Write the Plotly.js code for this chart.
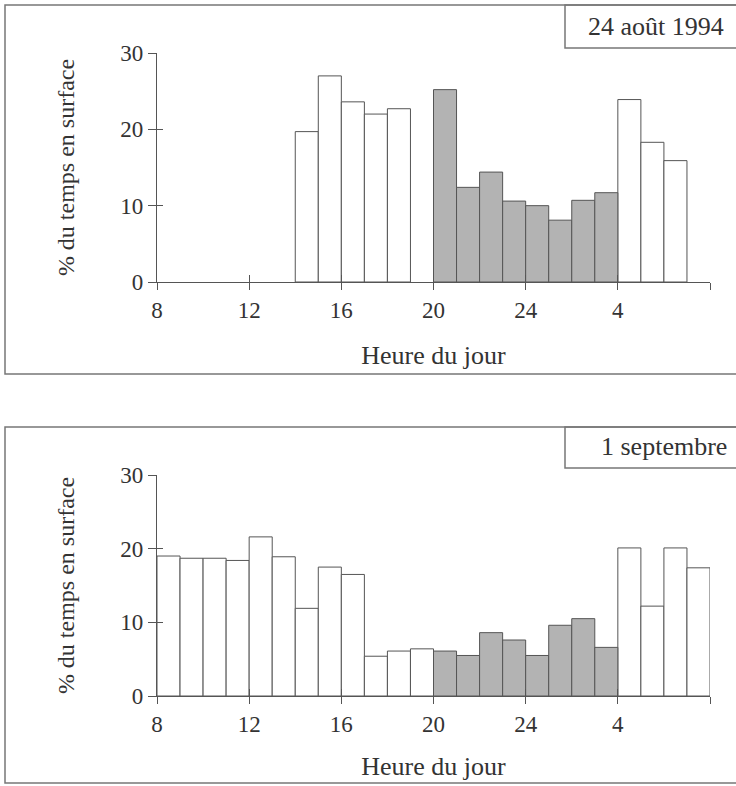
<!DOCTYPE html>
<html>
<head>
<meta charset="utf-8">
<script src="https://cdn.plot.ly/plotly-3.0.1.min.js"></script>
<style>html,body{margin:0;padding:0;background:#fff;}#chart{width:736px;height:786px;}</style>
</head>
<body>
<div id="chart"></div>
<script>
// Hour at the start of each one-hour bin (8h to 8h the next day, 24..31 = 0h..7h)
const hourStart = [8, 9, 10, 11, 12, 13, 14, 15, 16, 17, 18, 19, 20, 21, 22, 23, 24, 25, 26, 27, 28, 29, 30, 31];
// % du temps en surface, 24 août 1994 (null = no bar)
const aug24 = [null, null, null, null, null, null, 19.7, 27.0, 23.6, 22.0, 22.7, null, 25.2, 12.4, 14.4, 10.6, 10.0, 8.1, 10.7, 11.7, 23.9, 18.3, 15.9, null];
// % du temps en surface, 1 septembre
const sep1 = [19.0, 18.7, 18.7, 18.4, 21.6, 18.9, 11.9, 17.5, 16.5, 5.4, 6.1, 6.4, 6.1, 5.5, 8.6, 7.6, 5.5, 9.6, 10.5, 6.6, 20.1, 12.2, 20.1, 17.4];
// Night period (shaded bars): 20h to 4h
const nightStart = 20, nightEnd = 28;
// Axis ticks
const xTickVals = [8, 12, 16, 20, 24, 28, 32];
const xTickText = ['8', '12', '16', '20', '24', '4', ''];
const yTickVals = [0, 10, 20, 30];
const panelLabels = ['24 août 1994', '1 septembre'];
const xTitle = 'Heure du jour';
const yTitle = '% du temps en surface';

const W = 736, H = 786;
const px = v => v / W;
const py = v => 1 - v / H;

const FONT = "'Liberation Serif', 'Times New Roman', serif";
const TXT = '#333333';
const LINE = '#555555';
const GRAY = '#b3b3b3';

function isNight(h) { return h >= nightStart && h < nightEnd; }

function barTraces(vals, xa, ya) {
  const xd = [], yd = [], xn = [], yn = [];
  hourStart.forEach((h, i) => {
    if (vals[i] === null) return;
    if (isNight(h)) { xn.push(h + 0.5); yn.push(vals[i]); }
    else { xd.push(h + 0.5); yd.push(vals[i]); }
  });
  const common = {type: 'bar', width: 1, xaxis: xa, yaxis: ya, showlegend: false, hoverinfo: 'x+y'};
  return [
    Object.assign({}, common, {x: xd, y: yd, name: 'jour', marker: {color: '#ffffff', line: {color: LINE, width: 1}}}),
    Object.assign({}, common, {x: xn, y: yn, name: 'nuit', marker: {color: GRAY, line: {color: LINE, width: 1}}})
  ];
}

const traces = [
  ...barTraces(aug24, 'x', 'y'),
  ...barTraces(sep1, 'x2', 'y2'),
  {type: 'scatter', x: [], y: [], xaxis: 'x3', yaxis: 'y3', showlegend: false, hoverinfo: 'skip'},
  {type: 'scatter', x: [], y: [], xaxis: 'x4', yaxis: 'y4', showlegend: false, hoverinfo: 'skip'}
];

const xDom = [px(157), px(710)];
const topDom = [py(282), py(53)];
const botDom = [py(696), py(475)];

function xAxis(dom, anchor, standoff) {
  return {
    domain: dom, anchor: anchor, range: [8, 32], fixedrange: true,
    tickmode: 'array', tickvals: xTickVals, ticktext: xTickText,
    ticks: 'outside', ticklen: 7, tickwidth: 1, tickcolor: LINE,
    showline: true, linecolor: LINE, linewidth: 1.2, showgrid: false, zeroline: false,
    tickfont: {family: FONT, size: 23, color: TXT},
    title: {text: xTitle, font: {family: FONT, size: 26, color: TXT}, standoff: standoff}
  };
}
function yAxis(dom, anchor) {
  return {
    domain: dom, anchor: anchor, range: [0, 30], fixedrange: true,
    tickmode: 'array', tickvals: yTickVals,
    ticks: 'outside', ticklen: 8, tickwidth: 1, tickcolor: LINE,
    showline: true, linecolor: LINE, linewidth: 1.2, showgrid: false, zeroline: false,
    tickfont: {family: FONT, size: 23, color: TXT},
    title: {text: yTitle, font: {family: FONT, size: 24, color: TXT}, standoff: 38}
  };
}
function overlayX(dom, anchor, over) {
  return {domain: dom, anchor: anchor, overlaying: over, range: [8, 32], fixedrange: true,
    tickmode: 'array', tickvals: xTickVals, showticklabels: false,
    ticks: 'inside', ticklen: 7, tickwidth: 1, tickcolor: LINE,
    showline: false, showgrid: false, zeroline: false};
}
function overlayY(dom, anchor, over) {
  return {domain: dom, anchor: anchor, overlaying: over, range: [0, 30], fixedrange: true,
    tickmode: 'array', tickvals: yTickVals, showticklabels: false,
    ticks: 'inside', ticklen: 6, tickwidth: 1, tickcolor: LINE,
    showline: false, showgrid: false, zeroline: false};
}

const boxLine = {color: '#777777', width: 1.5};
const shapes = [
  {type: 'rect', xref: 'paper', yref: 'paper', x0: px(5), x1: px(760), y0: py(374), y1: py(5), line: boxLine, layer: 'below'},
  {type: 'rect', xref: 'paper', yref: 'paper', x0: px(565), x1: px(760), y0: py(48), y1: py(5), line: boxLine, layer: 'below'},
  {type: 'rect', xref: 'paper', yref: 'paper', x0: px(5), x1: px(760), y0: py(783), y1: py(427), line: boxLine, layer: 'below'},
  {type: 'rect', xref: 'paper', yref: 'paper', x0: px(565), x1: px(760), y0: py(468), y1: py(427), line: boxLine, layer: 'below'}
];

const annotations = [
  {xref: 'paper', yref: 'paper', x: px(656), y: py(26), xanchor: 'center', yanchor: 'middle', showarrow: false,
   text: panelLabels[0], font: {family: FONT, size: 26, color: TXT}},
  {xref: 'paper', yref: 'paper', x: px(664), y: py(446), xanchor: 'center', yanchor: 'middle', showarrow: false,
   text: panelLabels[1], font: {family: FONT, size: 26, color: TXT}}
];

const layout = {
  width: W, height: H,
  margin: {l: 0, r: 0, t: 0, b: 0},
  paper_bgcolor: '#ffffff', plot_bgcolor: 'rgba(0,0,0,0)',
  bargap: 0, barmode: 'overlay',
  showlegend: false,
  xaxis: xAxis(xDom, 'y', 24),
  yaxis: yAxis(topDom, 'x'),
  xaxis2: xAxis(xDom, 'y2', 21),
  yaxis2: yAxis(botDom, 'x2'),
  xaxis3: overlayX(xDom, 'y3', 'x'),
  yaxis3: overlayY(topDom, 'x3', 'y'),
  xaxis4: overlayX(xDom, 'y4', 'x2'),
  yaxis4: overlayY(botDom, 'x4', 'y2'),
  shapes: shapes,
  annotations: annotations
};

Plotly.newPlot('chart', traces, layout, {displayModeBar: false, staticPlot: true});
</script>
</body>
</html>
